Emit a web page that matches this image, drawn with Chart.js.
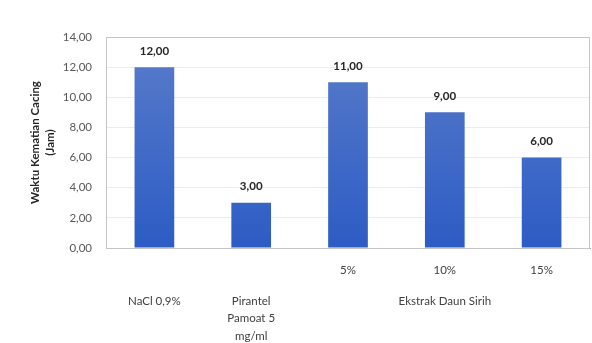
<!DOCTYPE html>
<html>
<head>
<meta charset="utf-8">
<script src="https://cdn.jsdelivr.net/npm/chart.js@4"></script>
<style>
html,body{margin:0;padding:0;background:#fff;}
#wrap{width:592px;height:343px;position:relative;}
</style>
</head>
<body>
<div id="wrap"><canvas id="c" width="592" height="343"></canvas></div>
<script>
const categories = ['NaCl 0,9%', 'Pirantel Pamoat 5 mg/ml', 'Ekstrak Daun Sirih 5%', 'Ekstrak Daun Sirih 10%', 'Ekstrak Daun Sirih 15%'];
const subLabels = ['', '', '5%', '10%', '15%'];
const groupLabels = ['NaCl 0,9%', ['Pirantel', 'Pamoat 5', 'mg/ml'], '', 'Ekstrak Daun Sirih', ''];
const values = [12, 3, 11, 9, 6];
const yTicks = [0, 2, 4, 6, 8, 10, 12, 14];

const fmt = v => v.toFixed(2).replace('.', ',');
const FONT = 'Lato, "Open Sans", sans-serif';

const dataLabels = {
  id: 'dataLabels',
  afterDatasetsDraw(chart) {
    const ctx = chart.ctx;
    const meta = chart.getDatasetMeta(0);
    ctx.save();
    ctx.font = 'bold 11.5px ' + FONT;
    ctx.fillStyle = '#262626';
    ctx.textAlign = 'center';
    ctx.textBaseline = 'middle';
    meta.data.forEach((bar, i) => {
      ctx.fillText(fmt(values[i]), bar.x, bar.y - 16);
    });
    ctx.restore();
  }
};

const plotBorder = {
  id: 'plotBorder',
  beforeDatasetsDraw(chart) {
    const a = chart.chartArea;
    const ctx = chart.ctx;
    ctx.save();
    ctx.strokeStyle = '#c4c4c4';
    ctx.lineWidth = 1;
    ctx.strokeRect(Math.round(a.left) + 0.5, Math.round(a.top) + 0.5, Math.round(a.right - a.left) - 1, Math.round(a.bottom - a.top));
    ctx.restore();
  }
};

new Chart(document.getElementById('c'), {
  type: 'bar',
  data: {
    labels: categories,
    datasets: [{
      data: values,
      backgroundColor: (c) => {
        const a = c.chart.chartArea;
        if (!a) return '#3d66c6';
        const g = c.chart.ctx.createLinearGradient(0, a.top, 0, a.bottom);
        g.addColorStop(0, '#5a7cca');
        g.addColorStop(1, '#2c5cc4');
        return g;
      },
      borderWidth: 0,
      barPercentage: 0.82,
      categoryPercentage: 0.5
    }]
  },
  options: {
    responsive: false,
    animation: false,
    layout: { padding: { top: 37, right: 2, left: 0, bottom: 0 } },
    plugins: { legend: { display: false }, tooltip: { enabled: false } },
    scales: {
      y: {
        min: 0, max: 14,
        afterBuildTicks: s => { s.ticks = yTicks.map(v => ({ value: v })); },
        afterFit: s => { s.width = 106; },
        border: { display: false },
        grid: { color: '#ececec', drawTicks: false },
        ticks: {
          padding: 14,
          color: '#595959',
          font: { family: FONT, size: 11.5 },
          callback: v => fmt(v)
        },
        title: {
          display: true,
          text: ['Waktu Kematian Cacing', '(Jam)'],
          color: '#262626',
          font: { family: FONT, size: 11.5, weight: 'bold', lineHeight: 1.3 },
          padding: { top: 28, bottom: 0 }
        }
      },
      x: {
        afterFit: s => { s.height = 30; },
        border: { display: true, color: '#a6a6a6' },
        grid: { display: false, drawTicks: false },
        ticks: {
          padding: 15,
          color: '#404040',
          maxRotation: 0,
          autoSkip: false,
          font: { family: FONT, size: 11.5 },
          callback: (v, i) => subLabels[i]
        }
      },
      x2: {
        type: 'category',
        position: 'bottom',
        labels: categories,
        offset: true,
        afterFit: s => { s.height = 65; },
        border: { display: false },
        grid: { display: false, drawTicks: false },
        ticks: {
          padding: 14,
          color: '#404040',
          maxRotation: 0,
          autoSkip: false,
          font: { family: FONT, size: 11.5, lineHeight: 1.55 },
          callback: (v, i) => groupLabels[i]
        }
      }
    }
  },
  plugins: [plotBorder, dataLabels]
});
</script>
</body>
</html>
